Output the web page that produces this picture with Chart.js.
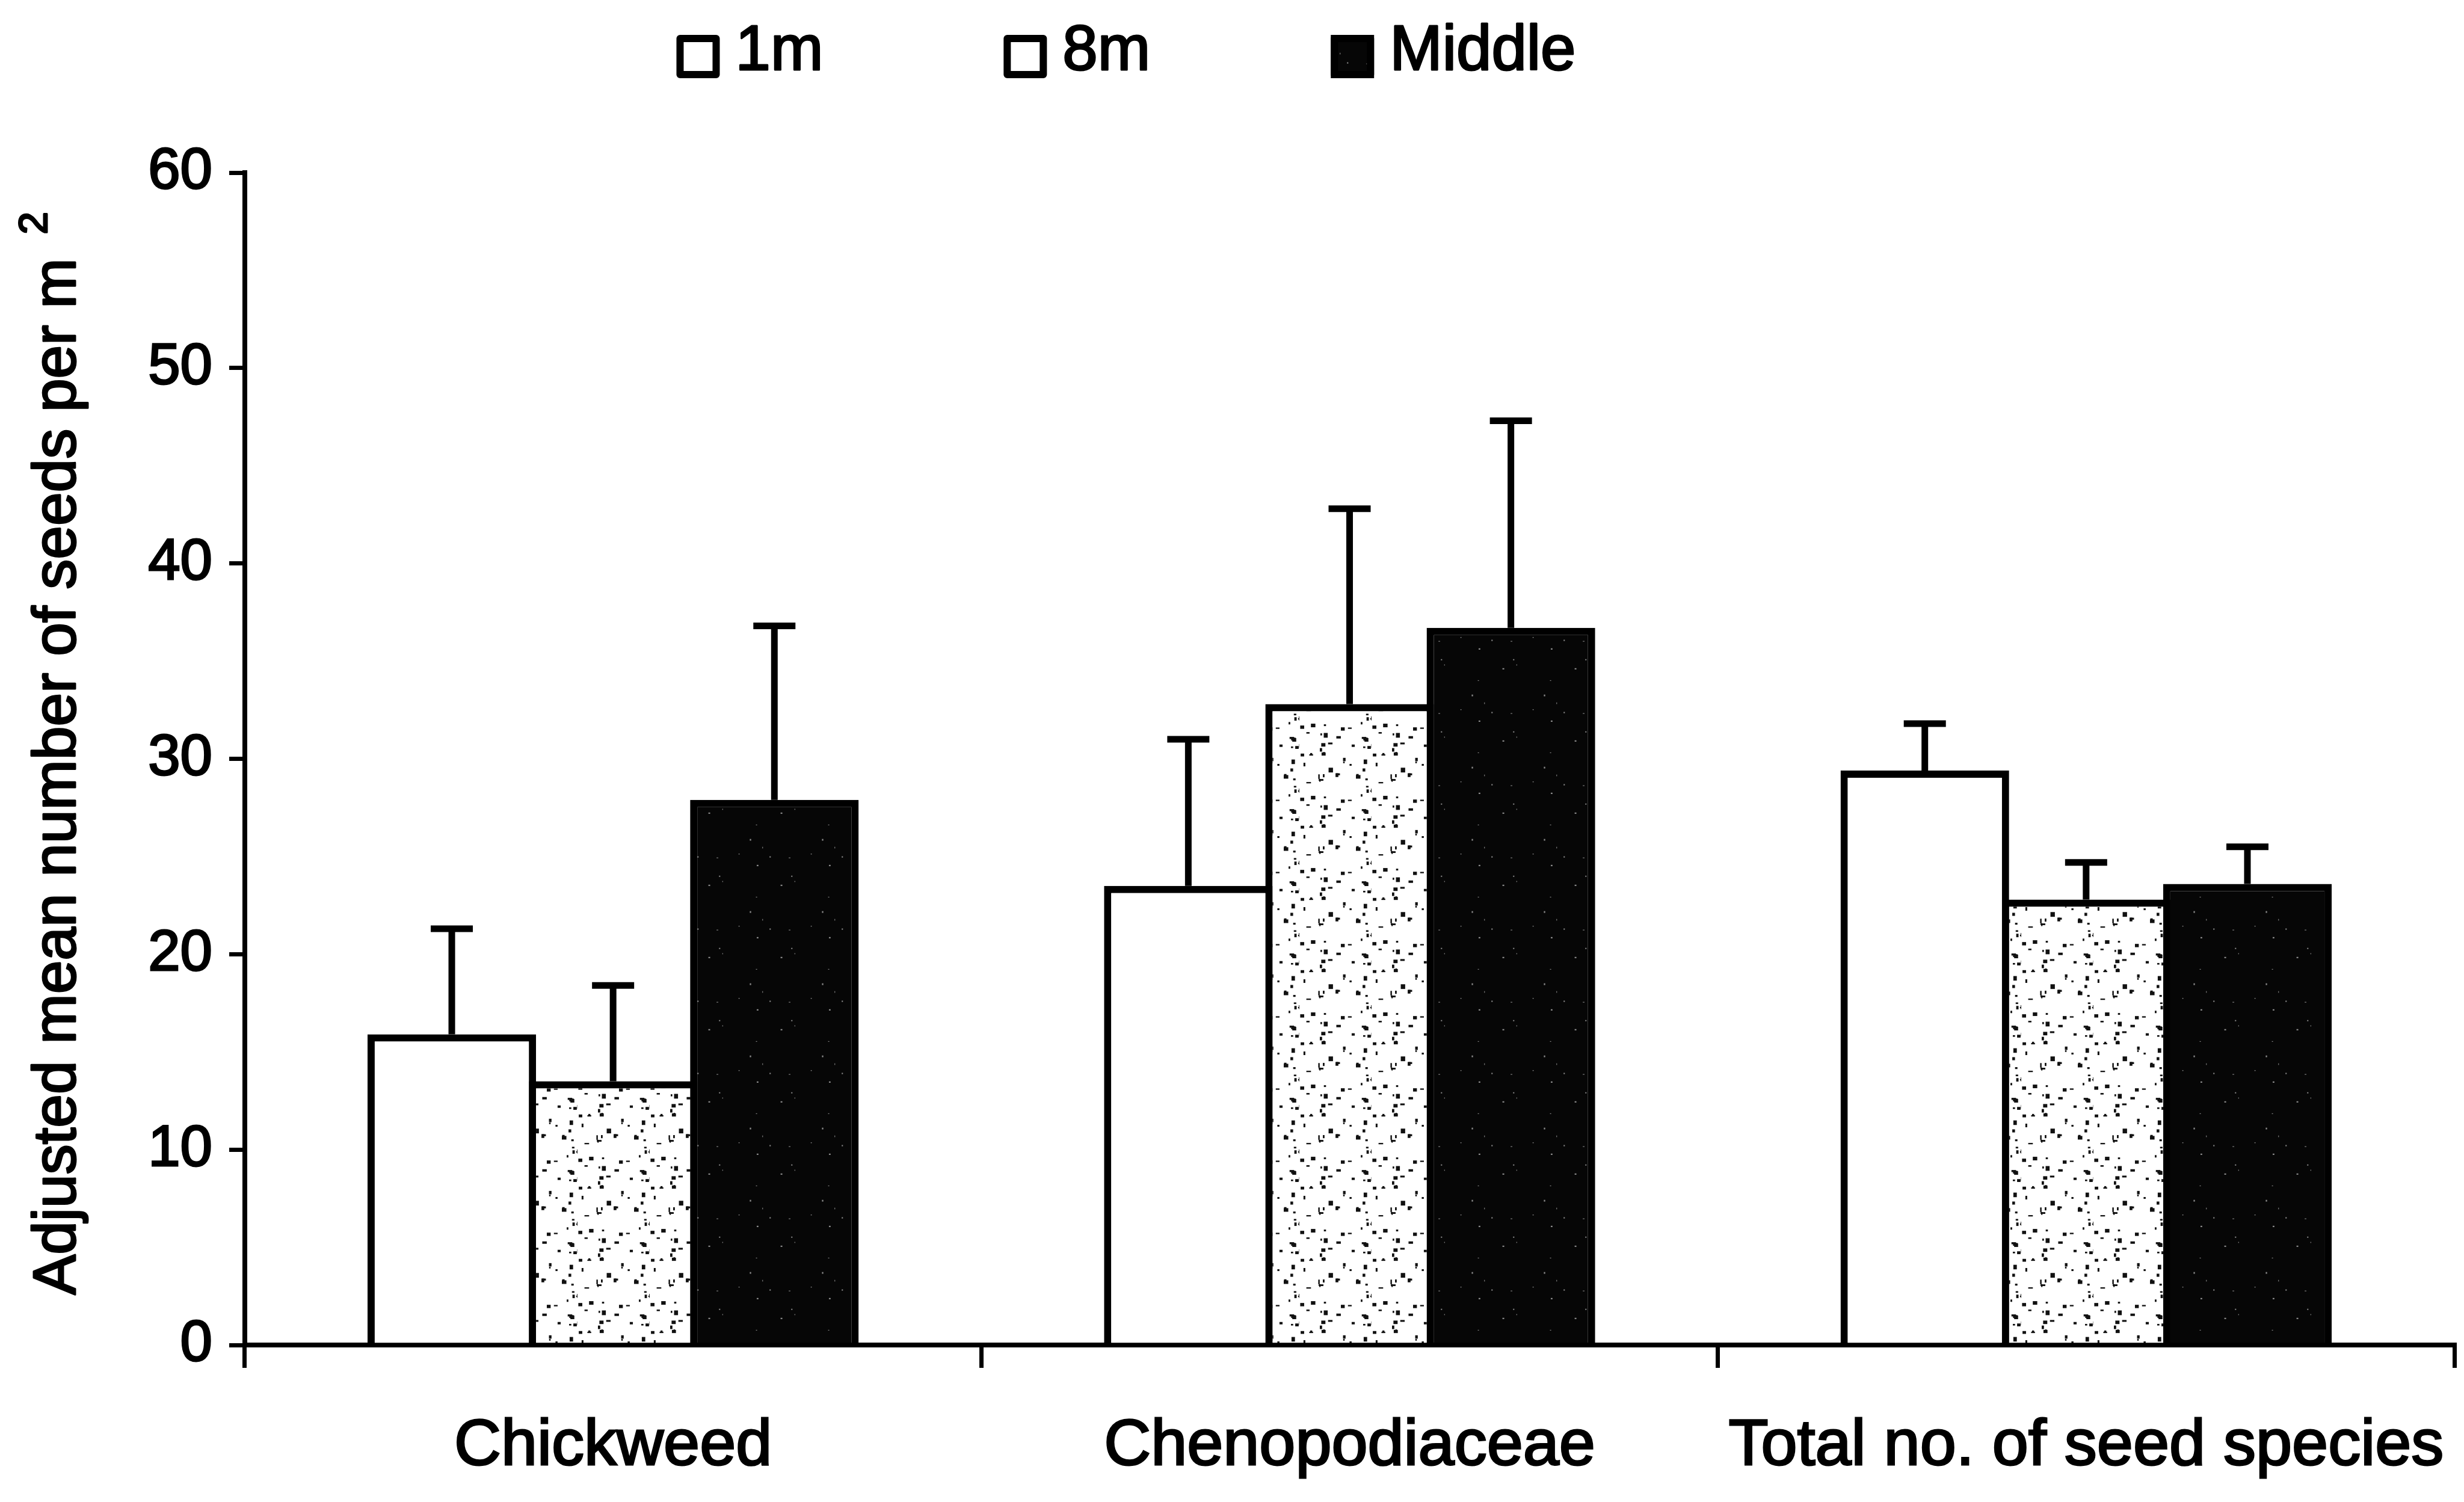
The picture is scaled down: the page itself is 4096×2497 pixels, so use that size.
<!DOCTYPE html>
<html>
<head>
<meta charset="utf-8">
<title>Adjusted mean number of seeds per m²</title>
<script src="https://cdn.jsdelivr.net/npm/chart.js@4.4.0/dist/chart.umd.min.js"></script>
<style>
    html, body { margin: 0; padding: 0; background: #fff; }
    #wrap { width: 4096px; height: 2497px; }
</style>
</head>
<body>
<div id="wrap"><canvas id="seedChart" width="4096" height="2497"></canvas></div>
<script>
// Seed bank: adjusted means (+ SE) at three distances into the field
const categories = ['Chickweed', 'Chenopodiaceae', 'Total no. of seed species'];
const seriesNames = ['1m', '8m', 'Middle'];
const means1m = [15.9, 23.5, 29.4];
const means8m = [13.5, 32.8, 22.8];
const meansMiddle = [27.9, 36.7, 23.6];
const err1m = [5.4, 7.5, 2.4];
const err8m = [4.9, 10.0, 1.9];
const errMiddle = [8.9, 10.6, 1.9];
const yTicks = [0, 10, 20, 30, 40, 50, 60];
const yTitleText = 'Adjusted mean number of seeds per m';
const yTitleSup = '2';

const family = "'Liberation Sans', Arial, sans-serif";
const inkWidth = 3; // thickens the glyphs a little

// Speckled fills for the 8m and Middle bars
function speckle(bg, fg, count, minSize, maxSize, seed) {
    const tile = document.createElement('canvas');
    tile.width = 120;
    tile.height = 120;
    const c = tile.getContext('2d');
    c.fillStyle = bg;
    c.fillRect(0, 0, 120, 120);
    c.fillStyle = fg;
    let s = seed;
    const next = () => (s = (s * 16807) % 2147483647) / 2147483647;
    for (let i = 0; i < count; i++) {
        const x = next() * 120, y = next() * 120;
        const w = minSize + next() * (maxSize - minSize);
        const h = minSize + next() * (maxSize - minSize);
        c.fillRect(x, y, w, h);
    }
    return c.createPattern(tile, 'repeat');
}

const fillWhite = '#ffffff';
const fillDots = speckle('#ffffff', '#111111', 46, 2, 8, 12345);
const fillDark = speckle('#060606', '#8a8a8a', 10, 1, 3, 777);

// Error bars: stem from bar top to mean + SE, with a cap
const errorBars = {
    id: 'errorBars',
    afterDatasetsDraw(chart) {
        const ctx = chart.ctx;
        const y = chart.scales.y;
        ctx.save();
        ctx.strokeStyle = '#000';
        ctx.lineWidth = 11;
        ctx.lineCap = 'butt';
        chart.data.datasets.forEach((ds, i) => {
            chart.getDatasetMeta(i).data.forEach((bar, j) => {
                const top = y.getPixelForValue(ds.data[j] + ds.errors[j]);
                ctx.beginPath();
                ctx.moveTo(bar.x, bar.y);
                ctx.lineTo(bar.x, top);
                ctx.moveTo(bar.x - 35, top);
                ctx.lineTo(bar.x + 35, top);
                ctx.stroke();
            });
        });
        ctx.restore();
    }
};

// Legend row above the plot
const legendRow = {
    id: 'legendRow',
    afterDraw(chart) {
        const ctx = chart.ctx;
        const box = 72, gapText = 26, gapItem = 300, boxTop = 58, textMid = 87;
        ctx.save();
        ctx.font = '105px ' + family;
        ctx.textBaseline = 'middle';
        ctx.textAlign = 'left';
        ctx.lineJoin = 'round';
        const widths = chart.data.datasets.map(ds => box + gapText + ctx.measureText(ds.label).width);
        const total = widths.reduce((a, b) => a + b, 0) + gapItem * (widths.length - 1);
        let x = 1872 - total / 2;
        chart.data.datasets.forEach((ds, i) => {
            ctx.fillStyle = ds.legendFill;
            ctx.fillRect(x, boxTop, box, box);
            ctx.lineWidth = 12;
            ctx.strokeStyle = '#000';
            ctx.strokeRect(x + 6, boxTop + 6, box - 12, box - 12);
            ctx.fillStyle = '#000';
            ctx.lineWidth = inkWidth;
            ctx.fillText(ds.label, x + box + gapText, textMid);
            ctx.strokeText(ds.label, x + box + gapText, textMid);
            x += widths[i] + gapItem;
        });
        ctx.restore();
    }
};

// Rotated y-axis title with superscript
const yTitle = {
    id: 'yTitle',
    afterDraw(chart) {
        const ctx = chart.ctx;
        ctx.save();
        ctx.fillStyle = '#000';
        ctx.strokeStyle = '#000';
        ctx.lineWidth = inkWidth;
        ctx.lineJoin = 'round';
        ctx.textBaseline = 'alphabetic';
        ctx.textAlign = 'center';
        ctx.font = '100px ' + family;
        const w = ctx.measureText(yTitleText).width;
        ctx.translate(125, 1291);
        ctx.rotate(-Math.PI / 2);
        ctx.fillText(yTitleText, 0, 0);
        ctx.strokeText(yTitleText, 0, 0);
        ctx.font = '67px ' + family;
        ctx.textAlign = 'left';
        ctx.fillText(yTitleSup, w / 2 + 40, -47);
        ctx.strokeText(yTitleSup, w / 2 + 40, -47);
        ctx.restore();
    }
};

function makeSet(label, data, errors, fill, legendFill) {
    return {
        label: label,
        data: data,
        errors: errors,
        legendFill: legendFill,
        backgroundColor: fill,
        borderColor: '#000',
        borderWidth: 12,
        borderSkipped: 'start'
    };
}

new Chart(document.getElementById('seedChart'), {
    type: 'bar',
    data: {
        labels: categories,
        datasets: [
            makeSet(seriesNames[0], means1m, err1m, fillWhite, '#ffffff'),
            makeSet(seriesNames[1], means8m, err8m, fillDots, '#ffffff'),
            makeSet(seriesNames[2], meansMiddle, errMiddle, fillDark, fillDark)
        ]
    },
    options: {
        responsive: false,
        devicePixelRatio: 1,
        animation: false,
        categoryPercentage: 0.657,
        barPercentage: 1.045,
        layout: { padding: { top: 287, right: 16, bottom: 0, left: 0 } },
        plugins: {
            legend: { display: false },
            tooltip: { enabled: false }
        },
        scales: {
            x: {
                z: 1,
                grid: {
                    display: true,
                    offset: true,
                    drawOnChartArea: false,
                    drawTicks: true,
                    tickLength: 38,
                    color: '#000',
                    lineWidth: 7
                },
                border: { display: true, color: '#000', width: 8 },
                ticks: {
                    color: '#000',
                    font: { family: family, size: 108 },
                    textStrokeColor: '#000',
                    textStrokeWidth: inkWidth,
                    padding: 66,
                    maxRotation: 0,
                    autoSkip: false
                },
                afterFit(scale) {
                    scale.height = 261;
                    scale.paddingLeft = 0;
                    scale.paddingRight = 0;
                }
            },
            y: {
                z: 1,
                min: 0,
                max: 60,
                grid: {
                    drawOnChartArea: false,
                    drawTicks: true,
                    tickLength: 26,
                    color: '#000',
                    lineWidth: 7
                },
                border: { display: true, color: '#000', width: 8 },
                ticks: {
                    color: '#000',
                    font: { family: family, size: 96 },
                    textStrokeColor: '#000',
                    textStrokeWidth: inkWidth,
                    padding: 28
                },
                afterBuildTicks(scale) { scale.ticks = yTicks.map(v => ({ value: v })); },
                afterFit(scale) { scale.width = 407; }
            }
        }
    },
    plugins: [errorBars, legendRow, yTitle]
});
</script>
</body>
</html>
